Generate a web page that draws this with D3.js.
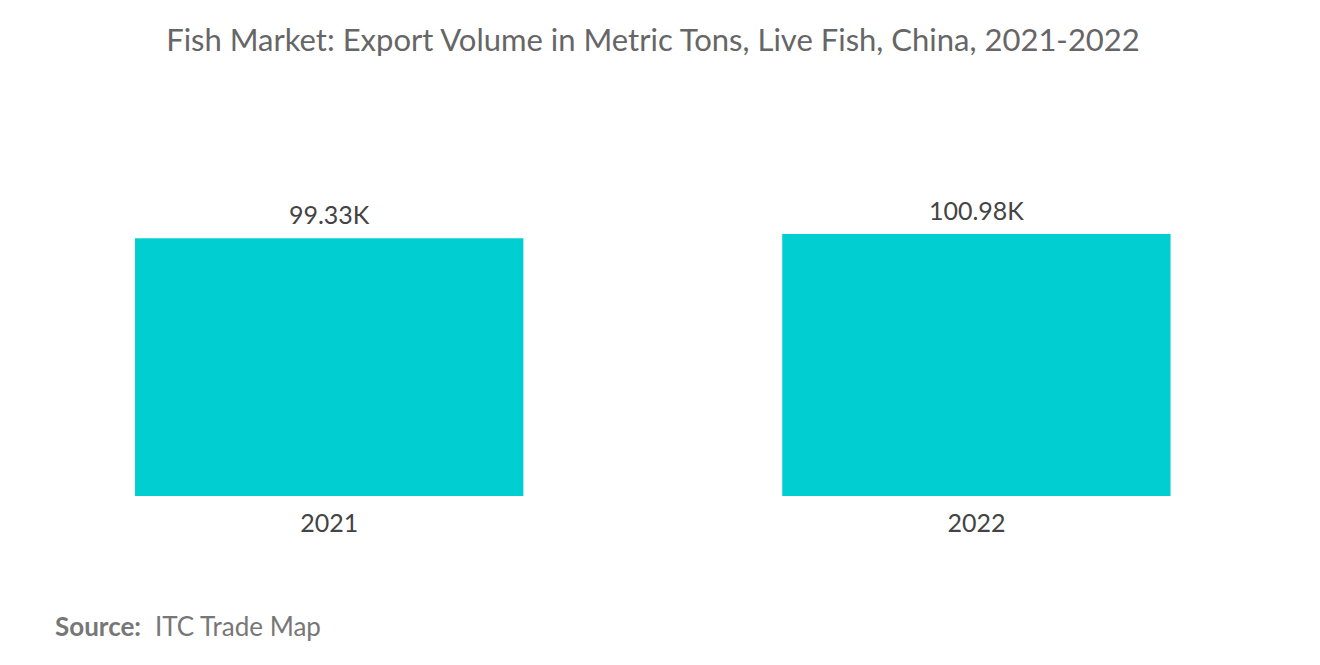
<!DOCTYPE html>
<html>
<head>
<meta charset="utf-8">
<script src="https://cdn.jsdelivr.net/npm/d3@7"></script>
<style>
  body { margin: 0; background: #fff; }
  text { font-family: "Lato", "Open Sans", sans-serif; }
</style>
</head>
<body>
<div id="viz"></div>
<script>
// export volume, metric tons (thousands)
const years = ['2021', '2022'];
const volumes = [99.33, 100.98];
const valueLabels = ['99.33K', '100.98K'];

const width = 1320, height = 665;
const baseline = 496;

const svg = d3.select('#viz').append('svg')
    .attr('width', width)
    .attr('height', height);

svg.append('text')
    .attr('x', 653).attr('y', 51)
    .attr('text-anchor', 'middle')
    .attr('fill', '#666')
    .style('font-size', '31px')
    .text('Fish Market: Export Volume in Metric Tons, Live Fish, China, 2021-2022');

const xScale = d3.scaleBand()
    .domain(years)
    .range([5.6, 1300])
    .paddingInner(0.4)
    .paddingOuter(0.2);

const yScale = d3.scaleLinear()
    .domain([0, 100.98])
    .range([baseline, 234]);

const bars = svg.append('g');

bars.selectAll('rect')
    .data(volumes)
    .join('rect')
    .attr('x', (d, i) => xScale(years[i]))
    .attr('y', d => yScale(d))
    .attr('width', xScale.bandwidth())
    .attr('height', d => baseline - yScale(d))
    .attr('fill', '#00CED1');

bars.selectAll('.val')
    .data(volumes)
    .join('text')
    .attr('class', 'val')
    .attr('x', (d, i) => xScale(years[i]) + xScale.bandwidth() / 2)
    .attr('y', d => yScale(d) - 14)
    .attr('text-anchor', 'middle')
    .attr('fill', '#444')
    .style('font-size', '25px')
    .text((d, i) => valueLabels[i]);

bars.selectAll('.cat')
    .data(years)
    .join('text')
    .attr('class', 'cat')
    .attr('x', d => xScale(d) + xScale.bandwidth() / 2)
    .attr('y', baseline + 36)
    .attr('text-anchor', 'middle')
    .attr('fill', '#444')
    .style('font-size', '25px')
    .text(d => d);

const src = svg.append('text')
    .attr('x', 55).attr('y', 636)
    .attr('fill', '#777')
    .style('font-size', '26px');
src.append('tspan').style('font-weight', 'bold').text('Source:');
src.append('tspan').attr('dx', 14).text('ITC Trade Map');
</script>
</body>
</html>
